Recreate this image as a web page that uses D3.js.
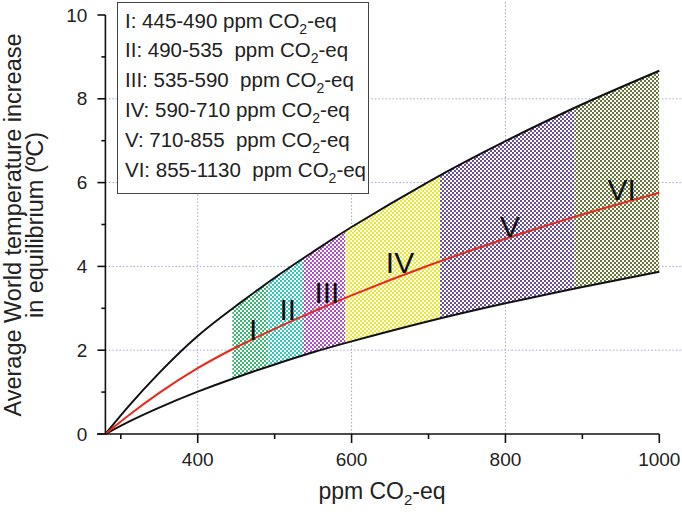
<!DOCTYPE html>
<html>
<head>
<meta charset="utf-8">
<script src="https://cdn.jsdelivr.net/npm/d3@7"></script>
<style>
  body { margin: 0; background: #fff; }
  svg { display: block; font-family: "Liberation Sans", Arial, sans-serif; }
</style>
</head>
<body>
<svg id="chart"></svg>
<script>
// equilibrium warming vs CO2-eq concentration, three sensitivity curves + stabilisation bands

const width = 682;
const height = 514;

// values
const ppm     = [280, 310, 350, 400, 450, 500, 550, 600, 700, 800, 900, 1000];
const upper   = [0, 0.66, 1.46, 2.34, 3.06, 3.73, 4.35, 4.94, 6.02, 6.99, 7.87, 8.67];
const central = [0, 0.44, 0.98, 1.57, 2.07, 2.51, 2.92, 3.31, 4.02, 4.66, 5.24, 5.76];
const lower   = [0, 0.29, 0.63, 1.01, 1.35, 1.66, 1.95, 2.21, 2.69, 3.12, 3.51, 3.87];

const bandNames  = ["I", "II", "III", "IV", "V", "VI"];
const bandStart  = [445, 492, 537, 592, 715, 890];
const bandEnd    = [492, 537, 592, 715, 890, 1000];
const bandColors = ["#38b870", "#30c6bd", "#ac4cc6", "#e8e830", "#6b4f92", "#647839"];
const labelPpm   = [472, 517, 568, 663, 806, 951];
const labelTemp  = [2.24, 2.72, 3.13, 3.84, 4.70, 5.58];

const legendRange = ["445-490 ppm", "490-535  ppm", "535-590  ppm", "590-710 ppm", "710-855  ppm", "855-1130  ppm"];

const xMajor = [400, 600, 800, 1000];
const xMinor = [300, 500, 700, 900];
const yMajor = [0, 2, 4, 6, 8, 10];
const yMinor = [1, 3, 5, 7, 9];
const xGrid = [400, 600, 800];
const yGrid = [2, 4, 6, 8];

const x = d3.scaleLinear().domain([280, 1000]).range([105.4, 659.3]);
const y = d3.scaleLinear().domain([0, 10]).range([434, 15]);

const svg = d3.select("#chart")
  .attr("width", width)
  .attr("height", height);

const defs = svg.append("defs");

// checkered fills
bandColors.forEach((c, i) => {
  const p = defs.append("pattern")
    .attr("id", `chk-${i}`)
    .attr("patternUnits", "userSpaceOnUse")
    .attr("width", 4)
    .attr("height", 4);
  p.append("rect").attr("width", 4).attr("height", 4).attr("fill", "#fff");
  p.append("rect").attr("width", 2).attr("height", 2).attr("fill", c);
  p.append("rect").attr("x", 2).attr("y", 2).attr("width", 2).attr("height", 2).attr("fill", c);
  defs.append("clipPath").attr("id", `clip-${i}`)
    .append("rect")
    .attr("x", x(bandStart[i]))
    .attr("y", 0)
    .attr("width", x(bandEnd[i]) - x(bandStart[i]))
    .attr("height", height);
});

// grid
const grid = svg.append("g")
  .attr("stroke", "#a5a5dc")
  .attr("stroke-width", 1)
  .attr("stroke-dasharray", "1.5,2");
grid.selectAll(".gx").data(xGrid).join("line")
  .attr("x1", d => x(d)).attr("x2", d => x(d))
  .attr("y1", y(0)).attr("y2", 0);
grid.selectAll(".gy").data(yGrid).join("line")
  .attr("x1", x(280)).attr("x2", width)
  .attr("y1", d => y(d)).attr("y2", d => y(d));

const pts = ppm.map((p, i) => ({ p, lo: lower[i], mid: central[i], hi: upper[i] }));

const area = d3.area()
  .x(d => x(d.p))
  .y0(d => y(d.lo))
  .y1(d => y(d.hi))
  .curve(d3.curveNatural);

svg.append("g").selectAll("path")
  .data(bandNames)
  .join("path")
  .attr("d", area(pts))
  .attr("fill", (d, i) => `url(#chk-${i})`)
  .attr("clip-path", (d, i) => `url(#clip-${i})`);

const line = key => d3.line()
  .x(d => x(d.p))
  .y(d => y(d[key]))
  .curve(d3.curveNatural);

svg.append("path").attr("d", line("hi")(pts))
  .attr("fill", "none").attr("stroke", "#111").attr("stroke-width", 2);
svg.append("path").attr("d", line("lo")(pts))
  .attr("fill", "none").attr("stroke", "#111").attr("stroke-width", 2);
svg.append("path").attr("d", line("mid")(pts))
  .attr("fill", "none").attr("stroke", "#e8291c").attr("stroke-width", 2);

// band labels
svg.append("g").selectAll("text")
  .data(bandNames)
  .join("text")
  .attr("x", (d, i) => x(labelPpm[i]))
  .attr("y", (d, i) => y(labelTemp[i]))
  .attr("text-anchor", "middle")
  .attr("font-size", 30)
  .attr("fill", "#111")
  .text(d => d);

// axes
const xAxis = svg.append("g").attr("transform", `translate(0,${y(0)})`);
xAxis.append("line")
  .attr("x1", 97).attr("x2", x(1000))
  .attr("stroke", "#111").attr("stroke-width", 1.6);
xAxis.selectAll(".maj").data(xMajor).join("line")
  .attr("x1", d => x(d)).attr("x2", d => x(d))
  .attr("y1", 0).attr("y2", 9)
  .attr("stroke", "#111").attr("stroke-width", 1.6);
xAxis.selectAll(".min").data(xMinor).join("line")
  .attr("x1", d => x(d)).attr("x2", d => x(d))
  .attr("y1", 0).attr("y2", 5)
  .attr("stroke", "#111").attr("stroke-width", 1.6);
xAxis.selectAll("text").data(xMajor).join("text")
  .attr("x", d => x(d))
  .attr("y", 32)
  .attr("text-anchor", "middle")
  .attr("font-size", 19)
  .attr("fill", "#222")
  .text(d => d);

const yAxis = svg.append("g").attr("transform", `translate(${x(280)},0)`);
yAxis.append("line")
  .attr("y1", y(0)).attr("y2", y(10))
  .attr("stroke", "#111").attr("stroke-width", 1.6);
yAxis.selectAll(".maj").data(yMajor).join("line")
  .attr("x1", -8).attr("x2", 0)
  .attr("y1", d => y(d)).attr("y2", d => y(d))
  .attr("stroke", "#111").attr("stroke-width", 1.6);
yAxis.selectAll(".min").data(yMinor).join("line")
  .attr("x1", -4).attr("x2", 0)
  .attr("y1", d => y(d)).attr("y2", d => y(d))
  .attr("stroke", "#111").attr("stroke-width", 1.6);
yAxis.selectAll("text").data(yMajor).join("text")
  .attr("x", -18)
  .attr("y", d => y(d))
  .attr("dy", "0.35em")
  .attr("text-anchor", "end")
  .attr("font-size", 19)
  .attr("fill", "#222")
  .text(d => d);

// axis titles
const xt = svg.append("text")
  .attr("x", 382)
  .attr("y", 499)
  .attr("text-anchor", "middle")
  .attr("font-size", 23)
  .attr("fill", "#222");
xt.append("tspan").text("ppm CO");
xt.append("tspan").attr("font-size", 15).attr("dy", 6).text("2");
xt.append("tspan").attr("dy", -6).text("-eq");

const yt = svg.append("g").attr("transform", "translate(0,225) rotate(-90)");
yt.append("text")
  .attr("x", 0).attr("y", 21)
  .attr("text-anchor", "middle")
  .attr("font-size", 23.5)
  .attr("fill", "#222")
  .text("Average World temperature increase");
yt.append("text")
  .attr("x", 0).attr("y", 43)
  .attr("text-anchor", "middle")
  .attr("font-size", 23.5)
  .attr("fill", "#222")
  .text("in equilibrium (ºC)");

// legend box
const legend = svg.append("g");
legend.append("rect")
  .attr("x", 117.5).attr("y", 2.5)
  .attr("width", 251).attr("height", 191)
  .attr("fill", "#fff")
  .attr("stroke", "#444")
  .attr("stroke-width", 1);

bandNames.forEach((name, i) => {
  const t = legend.append("text")
    .attr("x", 125)
    .attr("y", 27.5 + i * 29.9)
    .attr("font-size", 20.5)
    .attr("fill", "#222")
    .style("white-space", "pre");
  t.append("tspan").text(`${name}: ${legendRange[i]} CO`);
  t.append("tspan").attr("font-size", 14).attr("dy", 6).text("2");
  t.append("tspan").attr("dy", -6).text("-eq");
});
</script>
</body>
</html>
